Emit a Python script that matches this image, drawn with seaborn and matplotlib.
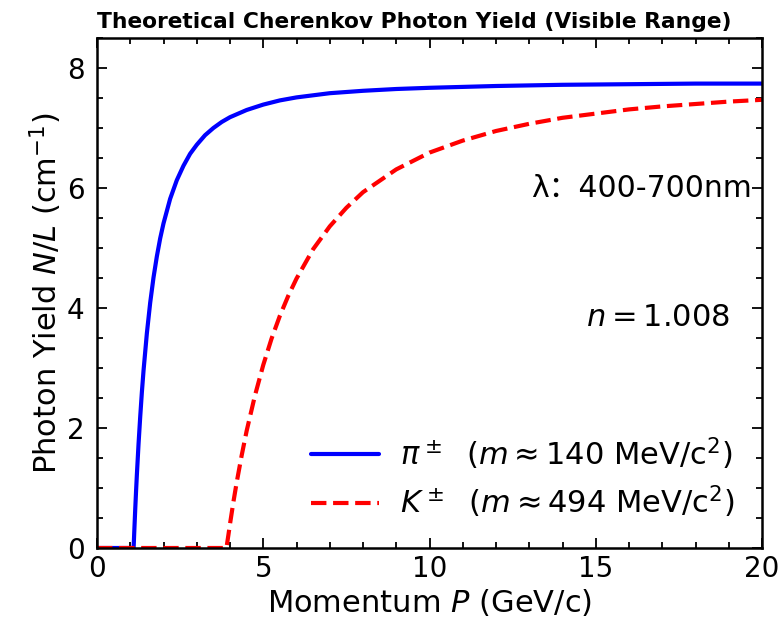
import matplotlib
matplotlib.use("Agg")
import matplotlib.pyplot as plt
import seaborn as sns
import pandas as pd
from matplotlib.ticker import MultipleLocator

# Momentum (GeV/c) and photon yield N/L (cm^-1)
pion_p = [0.0, 1.0, 1.101, 1.11, 1.12, 1.13, 1.15, 1.175, 1.2, 1.25, 1.3, 1.35, 1.4, 1.5, 1.6,
          1.7, 1.8, 1.9, 2.0, 2.2, 2.4, 2.6, 2.8, 3.0, 3.25, 3.5, 3.75, 4.0, 4.5, 5.0, 5.5,
          6.0, 7.0, 8.0, 9.0, 10.0, 12.0, 14.0, 16.0, 18.0, 20.0]
pion_y = [0.0, 0.0, 0.0, 0.12, 0.26, 0.39, 0.65, 0.95, 1.23, 1.74, 2.19, 2.60, 2.96, 3.58, 4.09,
          4.51, 4.86, 5.16, 5.41, 5.82, 6.13, 6.37, 6.57, 6.72, 6.88, 7.00, 7.10, 7.18, 7.30, 7.39, 7.46,
          7.51, 7.58, 7.62, 7.65, 7.67, 7.70, 7.72, 7.73, 7.74, 7.74]

kaon_p = [0.0, 3.0, 3.895, 3.92, 3.95, 4.0, 4.1, 4.2, 4.35, 4.5, 4.75, 5.0, 5.25, 5.5, 5.75,
          6.0, 6.5, 7.0, 7.5, 8.0, 9.0, 10.0, 11.0, 12.0, 13.0, 14.0, 15.0, 16.0, 17.0,
          18.0, 19.0, 20.0]
kaon_y = [0.0, 0.0, 0.0, 0.10, 0.21, 0.40, 0.76, 1.09, 1.54, 1.95, 2.54, 3.05, 3.49, 3.87, 4.20,
          4.49, 4.98, 5.36, 5.67, 5.93, 6.31, 6.59, 6.79, 6.95, 7.07, 7.17, 7.24, 7.31, 7.36,
          7.40, 7.44, 7.47]

pion_label = r'$\pi^\pm$  ($m \approx 140$ MeV/c$^2$)'
kaon_label = r'$K^\pm$  ($m \approx 494$ MeV/c$^2$)'

sns.set_style("ticks")
plt.rcParams['font.family'] = ['DejaVu Sans', 'Noto Sans CJK SC']
for k in ['text.color', 'axes.labelcolor', 'xtick.color', 'ytick.color', 'axes.edgecolor']:
    plt.rcParams[k] = 'black'

fig = plt.figure(figsize=(7.84, 6.22), dpi=100)
ax = fig.add_axes([97/784, 1 - 548/622, (762-97)/784, (548-38)/622])

df_pi = pd.DataFrame({'P': pion_p, 'Y': pion_y})
df_k = pd.DataFrame({'P': kaon_p, 'Y': kaon_y})
sns.lineplot(data=df_pi, x='P', y='Y', ax=ax, color='#0000ff', lw=3.0, label=pion_label)
sns.lineplot(data=df_k, x='P', y='Y', ax=ax, color='#ff0000', lw=3.0, label=kaon_label,
             linestyle='--')

ax.set_xlim(0, 20)
ax.set_ylim(0, 8.5)
ax.xaxis.set_major_locator(MultipleLocator(5))
ax.xaxis.set_minor_locator(MultipleLocator(1))
ax.yaxis.set_major_locator(MultipleLocator(2))
ax.yaxis.set_minor_locator(MultipleLocator(0.5))
ax.tick_params(which='both', direction='in', top=True, right=True, width=1.3)
ax.tick_params(which='major', length=7, labelsize=20)
ax.tick_params(which='minor', length=4)
ax.tick_params(axis='y', which='major', pad=9)
ax.tick_params(axis='x', which='major', pad=5)
for s in ax.spines.values():
    s.set_linewidth(1.8)
    s.set_visible(True)

ax.set_xlabel(r'Momentum $P$ (GeV/c)', fontsize=22, labelpad=3)
ax.set_ylabel(r'Photon Yield $N/L$ (cm$^{-1}$)', fontsize=22, labelpad=2)

ax.text(19.7, 6.0, 'λ：400-700nm', fontsize=21.5, ha='right', va='center')
ax.text(19.05, 3.85, r'$n = 1.008$', fontsize=22, ha='right', va='center')

leg = ax.legend(loc='lower right', frameon=False, fontsize=22, handlelength=2.2,
                handletextpad=0.7, labelspacing=0.4, borderaxespad=0.5, borderpad=0.4)

fig.text(97/784, 1 - 28/622, 'Theoretical Cherenkov Photon Yield (Visible Range)',
         fontsize=15.7, fontweight='bold', ha='left', va='baseline')

fig.savefig('out.png', dpi=100)
